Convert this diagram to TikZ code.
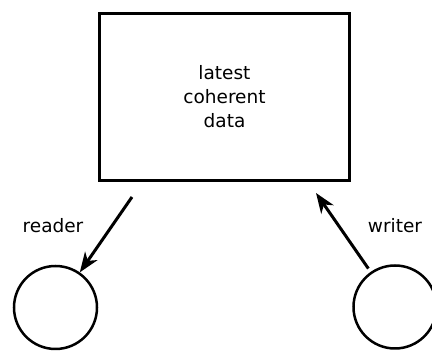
\documentclass[tikz,border=0pt]{standalone}
\usepackage{fontspec}
\setmainfont{DejaVu Sans}
\usetikzlibrary{arrows.meta}

\tikzset{
  store/.style={draw, line width=3pt, minimum width=250pt, minimum height=167pt,
    align=center, font=\fontsize{18.5}{24}\selectfont},
  proc/.style={draw, circle, line width=2.5pt, minimum size=83pt, inner sep=0pt},
  lbl/.style={font=\fontsize{18.5}{24}\selectfont},
}

\begin{document}
\begin{tikzpicture}[x=1pt, y=1pt, >={Stealth[length=20pt, width=15pt, inset=6pt]}, line width=3pt]
\useasboundingbox (0,0) rectangle (432,352);

\node [store] (data) at (224.5,255) {latest\\coherent\\data};
\node [proc] (reader) at (55.5,44.5) {};
\node [proc] (writer) at (395,45) {};

\coordinate (rtail) at (132,155);
\coordinate (whead) at (316,159);

\draw [->] (rtail) -- (reader);
\draw [->, shorten <=4pt] (writer) -- (whead);

\node [lbl] (rlbl) at (53,126) {reader};
\node [lbl] (wlbl) at (395,126) {writer};

\end{tikzpicture}
\end{document}
